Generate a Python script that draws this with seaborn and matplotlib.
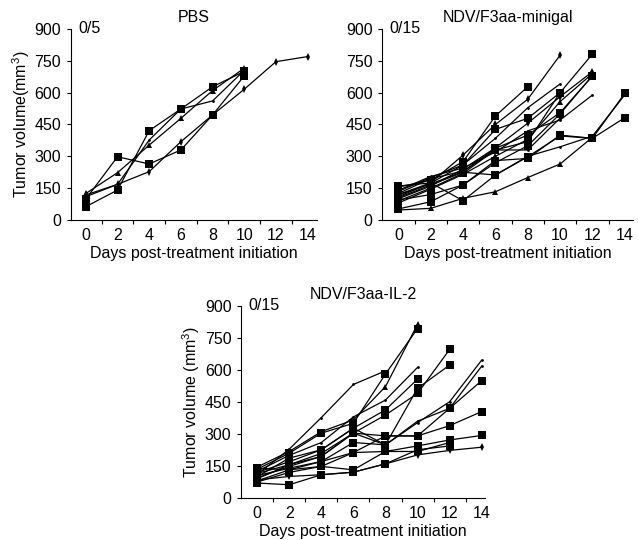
import numpy as np
import pandas as pd
import seaborn as sns
import matplotlib.pyplot as plt

# jours de mesure
days = [0, 2, 4, 6, 8, 10, 12, 14]

# PBS : 5 souris
pbs_vols = [
    [118, 168, 228, 369, 495, 616, 746, 770],
    [63, 141, 421, 523, 628, 700],
    [99, 298, 264, 330, 495, 679],
    [125, 223, 353, 479, 610, 715],
    [110, 168, 377, 523, 561, 705],
]
pbs_marks = ["d", "s", "s", "^", "."]

# NDV/F3aa-minigal : 15 souris
mini_vols = [
    [155, 188, 275, 490, 628],
    [120, 175, 306, 450, 569, 777],
    [135, 200, 260, 385, 529, 641],
    [110, 174, 259, 427, 479, 600, 782],
    [100, 160, 240, 340, 456, 581, 699],
    [118, 170, 228, 338, 400, 506, 679],
    [140, 205, 245, 320, 420, 471, 589],
    [80, 145, 215, 300, 380, 558, 690],
    [90, 150, 220, 330, 369, 600],
    [52, 86, 165, 270, 350, 500, 680],
    [125, 195, 230, 330, 330, 480],
    [160, 175, 91, 212, 298, 396, 385, 597],
    [105, 165, 225, 212, 300, 345, 395, 590],
    [47, 55, 102, 133, 200, 264, 390],
    [94, 120, 165, 280, 290, 400, 385, 482],
]
mini_marks = ["s", "d", ".", "s", "d", "s", ".", "^", "s", "s", ".", "s", ".", "^", "s"]

# NDV/F3aa-IL-2 : 15 souris
il2_vols = [
    [110, 229, 377, 532, 596],
    [145, 218, 311, 366, 522, 814],
    [135, 210, 304, 350, 581, 794],
    [125, 200, 260, 380, 459, 612],
    [100, 187, 226, 327, 413, 557],
    [90, 156, 195, 304, 389, 490, 696],
    [80, 132, 171, 260, 249, 514, 623],
    [120, 170, 226, 327, 249, 353, 451, 646],
    [95, 148, 195, 304, 249, 360, 420, 618],
    [105, 140, 171, 213, 291, 291, 420, 550],
    [115, 156, 209, 304, 291, 291, 339, 405],
    [75, 120, 148, 213, 218, 244, 272, 293],
    [70, 62, 109, 121, 160, 226, 244],
    [85, 101, 109, 121, 160, 202, 223, 238],
    [140, 132, 148, 132, 218, 218, 260],
]
il2_marks = [".", "^", "s", ".", "s", "s", "s", ".", ".", "s", "s", "s", "s", "d", "s"]

marker_size = {"s": 5.5, "^": 4.5, "d": 4, ".": 4}

sns.set_style("ticks")
plt.rcParams["font.family"] = ["Liberation Sans", "DejaVu Sans"]
plt.rcParams["mathtext.default"] = "regular"
plt.rcParams["text.color"] = "black"
plt.rcParams["axes.labelcolor"] = "black"
plt.rcParams["xtick.color"] = "black"
plt.rcParams["ytick.color"] = "black"

fig = plt.figure(figsize=(6.38, 5.4), dpi=100)

panels = [
    (pbs_vols, pbs_marks, "PBS", "0/5", "Tumor volume(mm$^3$)",
     [0.111, 0.5926, 0.386, 0.3537], (-0.95, 14.6)),
    (mini_vols, mini_marks, "NDV/F3aa-minigal", "0/15", "",
     [0.599, 0.5926, 0.393, 0.3537], (-1.0, 14.5)),
    (il2_vols, il2_marks, "NDV/F3aa-IL-2", "0/15", "Tumor volume (mm$^3$)",
     [0.378, 0.0778, 0.382, 0.3556], (-1.0, 14.2)),
]

for vols, marks, title, ratio, ylab, rect, xlim in panels:
    ax = fig.add_axes(rect)
    rows = []
    for i, v in enumerate(vols):
        for d, val in zip(days, v):
            rows.append({"souris": i, "day": d, "vol": val})
    df = pd.DataFrame(rows)
    for i, m in enumerate(marks):
        sub = df[df["souris"] == i]
        sns.lineplot(data=sub, x="day", y="vol", marker=m, color="black",
                     markersize=marker_size[m], markeredgewidth=0,
                     linewidth=0.9, ax=ax)
    sns.despine(ax=ax)
    ax.set_xlim(*xlim)
    ax.set_ylim(0, 900)
    ax.set_yticks(np.arange(0, 901, 150))
    ax.set_xticks(days)
    ax.set_xticks(np.arange(1, 14, 2), minor=True)
    ax.tick_params(axis="x", which="major", length=0, pad=6, labelsize=11.5)
    ax.tick_params(axis="x", which="minor", length=3, width=0.8, direction="out")
    ax.tick_params(axis="y", length=3, width=0.8, pad=4, labelsize=11.5)
    for s in ["left", "bottom"]:
        ax.spines[s].set_linewidth(0.8)
        ax.spines[s].set_color("black")
    ax.set_title(title, fontsize=11.5, pad=5)
    ax.text(0.03, 1.0, ratio, transform=ax.transAxes, fontsize=11.5,
            va="center", ha="left")
    ax.set_xlabel("Days post-treatment initiation", fontsize=11.5, labelpad=2)
    ax.set_ylabel(ylab, fontsize=11.5, labelpad=2)

fig.savefig("out.png", dpi=100)
